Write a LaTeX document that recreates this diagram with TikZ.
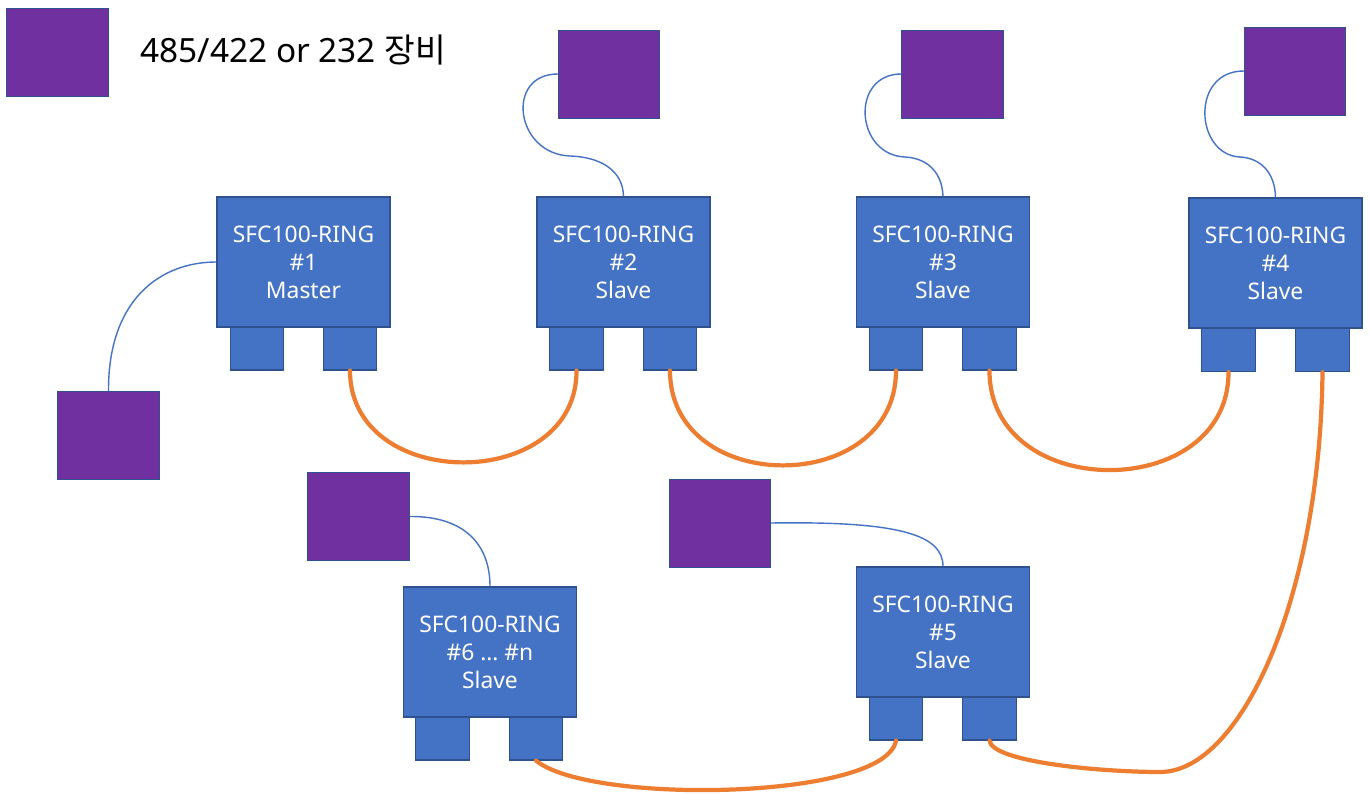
\documentclass[tikz,border=0pt]{standalone}
\usepackage{fontspec}
\setmainfont{Noto Sans}
\newfontfamily\krfont{Noto Sans CJK KR}
\definecolor{boxblue}{HTML}{4472C4}
\definecolor{edgeblue}{HTML}{2F528F}
\definecolor{devpurple}{HTML}{7030A0}
\definecolor{ringorange}{HTML}{ED7D31}
\begin{document}
\begin{tikzpicture}[x=0.02cm,y=-0.02cm,
  unitbox/.style={draw=edgeblue, fill=boxblue, line width=0.7pt, minimum width=3.46cm, minimum height=2.6cm, inner sep=0pt, text=white, align=center, font=\fontsize{13}{16}\selectfont},
  portbox/.style={draw=edgeblue, fill=boxblue, line width=0.7pt, minimum width=1.07cm, minimum height=0.86cm, inner sep=0pt},
  device/.style={draw=edgeblue, fill=devpurple, line width=0.5pt, minimum width=2.03cm, minimum height=1.76cm, inner sep=0pt},
  serial/.style={draw=boxblue, line width=0.8pt},
  ringline/.style={draw=ringorange, line width=2.4pt, line cap=round}]
\useasboundingbox (0,0) rectangle (1370,794);

% legend
\node[device] (leg) at (57.5,52) {};
\node[anchor=west, inner sep=0pt, font=\fontsize{19}{22}\selectfont] (legtxt) at (140,50) {485/422 or 232 {\krfont 장비}};

% ports (drawn first, under the units)
\node[portbox] (p1a) at (257,348.5) {};
\node[portbox] (p1b) at (350,348.5) {};
\node[portbox] (p2a) at (576.5,348.5) {};
\node[portbox] (p2b) at (670,348.5) {};
\node[portbox] (p3a) at (896,348.5) {};
\node[portbox] (p3b) at (989.5,348.5) {};
\node[portbox] (p4a) at (1228.5,350) {};
\node[portbox] (p4b) at (1322.5,350) {};
\node[portbox] (p6a) at (442.5,738.5) {};
\node[portbox] (p6b) at (536,738.5) {};
\node[portbox] (p5a) at (896,718.5) {};
\node[portbox] (p5b) at (989.5,718.5) {};

% units
\node[unitbox] (b1) at (303.5,262) {SFC100-RING\\\#1\\Master};
\node[unitbox] (b2) at (623.5,262) {SFC100-RING\\\#2\\Slave};
\node[unitbox] (b3) at (943,262) {SFC100-RING\\\#3\\Slave};
\node[unitbox] (b4) at (1275.5,263) {SFC100-RING\\\#4\\Slave};
\node[unitbox] (b6) at (490,652) {SFC100-RING\\\#6 \dots\ \#n\\Slave};
\node[unitbox] (b5) at (943,632) {SFC100-RING\\\#5\\Slave};

% devices
\node[device] (s1) at (108.5,435.5) {};
\node[device] (s2) at (609,74) {};
\node[device] (s3) at (952.5,74) {};
\node[device] (s4) at (1295,71) {};
\node[device] (s6) at (358.5,516.5) {};
\node[device] (s5) at (720,523) {};

% serial links
\draw[serial] (s1.north) .. controls (108,300) and (160,262) .. (b1.west);
\draw[serial] (b2.north) .. controls (623,170) and (600,157) .. (570,156) .. controls (515,154) and (505,74) .. (s2.west);
\draw[serial] (b3.north) .. controls (942,170) and (925,158) .. (905,157) .. controls (855,155) and (850,74) .. (s3.west);
\draw[serial] (b4.north) .. controls (1275,172) and (1260,158) .. (1240,157) .. controls (1195,155) and (1190,71) .. (s4.west);
\draw[serial] (s6.east) .. controls (465,516) and (490,545) .. (b6.north);
\draw[serial] (s5.east) .. controls (900,521) and (943,535) .. (b5.north);

% ring links
\draw[ringline] (p1b.south) .. controls (350,493) and (577,493) .. (p2a.south);
\draw[ringline] (p2b.south) .. controls (670,497) and (896,497) .. (p3a.south);
\draw[ringline] (p3b.south) .. controls (989,503) and (1229,503) .. (p4a.south);
\draw[ringline] (p4b.south) .. controls (1320,600) and (1240,772) .. (1160,772) .. controls (1100,772) and (992,762) .. (p5b.south);
\draw[ringline] (p5a.south) .. controls (885,800) and (590,805) .. (p6b.south);
\end{tikzpicture}
\end{document}
